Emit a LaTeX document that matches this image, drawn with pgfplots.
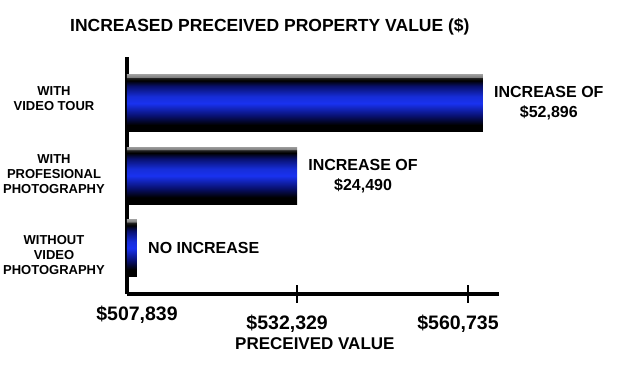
\documentclass[border=0pt]{standalone}
\usepackage{pgfplots}
\pgfplotsset{compat=1.18}
\usepackage{fontspec}
\setmainfont{Liberation Sans}
\definecolor{barblue}{RGB}{25,50,240}
\definecolor{bardark}{RGB}{8,16,110}
\pgfdeclareverticalshading{barshade}{100bp}{color(0bp)=(black); color(25bp)=(black); color(31bp)=(black); color(39bp)=(bardark); color(50bp)=(barblue); color(56bp)=(barblue!90!black); color(65bp)=(bardark); color(70bp)=(black); color(72.5bp)=(black!85); color(73bp)=(gray); color(75bp)=(gray!80); color(100bp)=(gray!80)}
\begin{document}
\begin{tikzpicture}
\path[use as bounding box] (-127pt,-85pt) rectangle (504pt,294pt);
% x axis measured from the axis origin at $506,310
\begin{axis}[
  scale only axis, width=372pt, height=237pt,
  xbar, bar width=57pt, bar shift=0pt,
  x filter/.expression={x-506310},
  scaled x ticks=false,
  xmin=0, xmax=56880, ymin=-0.634, ymax=2.64,
  axis x line*=bottom, axis y line*=left,
  axis line style={-, line width=3.5pt, black},
  xtick={26019,52140}, xticklabels={{\$532{,}329},{\$560{,}735}},
  extra x ticks={1529}, extra x tick labels={{\$507{,}839}},
  extra x tick style={major tick length=0pt, tick label style={xshift=10pt}},
  tick align=center, major tick length=18pt,
  xtick style={line width=2.5pt, black},
  ytick={-0.096,1.021,2.063},
  yticklabels={{WITHOUT\\VIDEO\\PHOTOGRAPHY},{WITH\\PROFESIONAL\\PHOTOGRAPHY},{WITH\\VIDEO TOUR}},
  ytick style={draw=none},
  yticklabel style={anchor=center, xshift=-64pt, align=center, font=\bfseries\fontsize{13}{15}\selectfont},
  xticklabel style={anchor=base, yshift=-27pt, xshift=-10pt, font=\bfseries\fontsize{19.5}{22}\selectfont},
  xlabel={PRECEIVED VALUE},
  xlabel style={at={(rel axis cs:0.505,0)}, anchor=base, yshift=-56pt, font=\bfseries\fontsize{17}{20}\selectfont},
  title={INCREASED PRECEIVED PROPERTY VALUE (\$)},
  title style={at={(rel axis cs:0.384,1)}, anchor=base, yshift=19pt, font=\bfseries\fontsize{17.5}{20}\selectfont},
  point meta=explicit symbolic,
  nodes near coords={\pgfplotspointmeta},
  nodes near coords style={anchor=west, inner sep=0pt, xshift=11pt, align=center, font=\bfseries\fontsize{16}{20}\selectfont},
]
\addplot[draw=none, shade, shading=barshade, bar shift=0pt]
  coordinates {(507839,0) [NO INCREASE]};
\addplot[draw=none, shade, shading=barshade, bar shift=0pt]
  coordinates {(532329,1) [{INCREASE OF\\\$24{,}490}]};
\addplot[draw=none, shade, shading=barshade, bar shift=0pt]
  coordinates {(560735,2) [{INCREASE OF\\\$52{,}896}]};
\end{axis}
\end{tikzpicture}
\end{document}
